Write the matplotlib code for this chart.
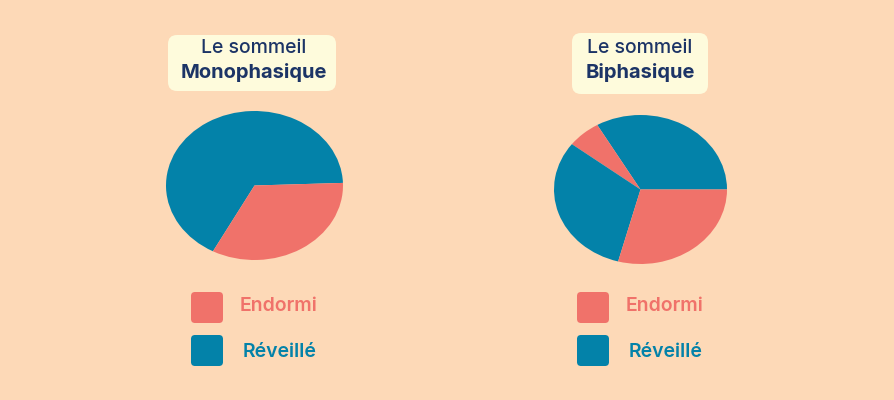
import matplotlib.pyplot as plt
from matplotlib.patches import FancyBboxPatch

plt.rcParams['font.family'] = ['Inter', 'DejaVu Sans']

BG = '#fdd9b7'
CORAL = '#f0726a'
TEAL = '#0382a9'
NAVY = '#1c3466'
CREAM = '#fefbdc'

# hours in a 24h day, counter-clockwise from 3 o'clock
mono_labels = ['Réveillé', 'Endormi']
mono_hours = [16, 8]
bi_labels = ['Réveillé', 'Endormi', 'Réveillé', 'Endormi']
bi_hours = [8, 1.5, 7.5, 7]

titles = ['Monophasique', 'Biphasique']
legend_labels = ['Endormi', 'Réveillé']
colours = {'Endormi': CORAL, 'Réveillé': TEAL}


def main():
    fig = plt.figure(figsize=(8.94, 4), dpi=100, facecolor=BG)

    # overlay in pixel coords for boxes / legend
    over = fig.add_axes([0, 0, 1, 1])
    over.set_xlim(0, 894)
    over.set_ylim(400, 0)
    over.axis('off')

    pies = [(mono_hours, mono_labels, (166, 111, 177, 149), 2),
            (bi_hours, bi_labels, (554, 115, 173, 149), 0)]
    for hours, labels, (x, y, w, h), start in pies:
        ax = fig.add_axes([x / 894, 1 - (y + h) / 400, w / 894, h / 400])
        ax.pie(hours, colors=[colours[l] for l in labels], startangle=start,
               counterclock=True, radius=1)
        ax.set_aspect('auto')
        ax.set_xlim(-1, 1)
        ax.set_ylim(-1, 1)
        ax.axis('off')

    # title boxes
    boxes = [(254, 168, 168, 35, 56), (640, 572, 136, 33, 61)]
    for title, (cx, bx, bw, by, bh) in zip(titles, boxes):
        over.add_patch(FancyBboxPatch((bx + 4, by + 4), bw - 8, bh - 8,
                                      boxstyle='round,pad=4,rounding_size=9',
                                      fc=CREAM, ec='none'))
        over.text(cx, 48, 'Le sommeil', ha='center', va='center',
                  fontsize=14, color=NAVY, fontweight='medium')
        over.text(cx, 73, title, ha='center', va='center',
                  fontsize=14.5, color=NAVY, fontweight='bold')

    # legends
    legends = [(191, 240), (577, 626)]
    for sx, tx in legends:
        for i, lab in enumerate(legend_labels):
            sy = 292 + i * 43
            over.add_patch(FancyBboxPatch((sx + 3, sy + 3), 26, 25,
                                          boxstyle='round,pad=3,rounding_size=4',
                                          fc=colours[lab], ec='none'))
            over.text(tx + 3 * i, sy + 14 + 3 * i, lab, ha='left', va='center',
                      fontsize=14, color=colours[lab], fontweight='semibold')

    fig.savefig('out.png', dpi=100, facecolor=BG)


if __name__ == '__main__':
    main()
